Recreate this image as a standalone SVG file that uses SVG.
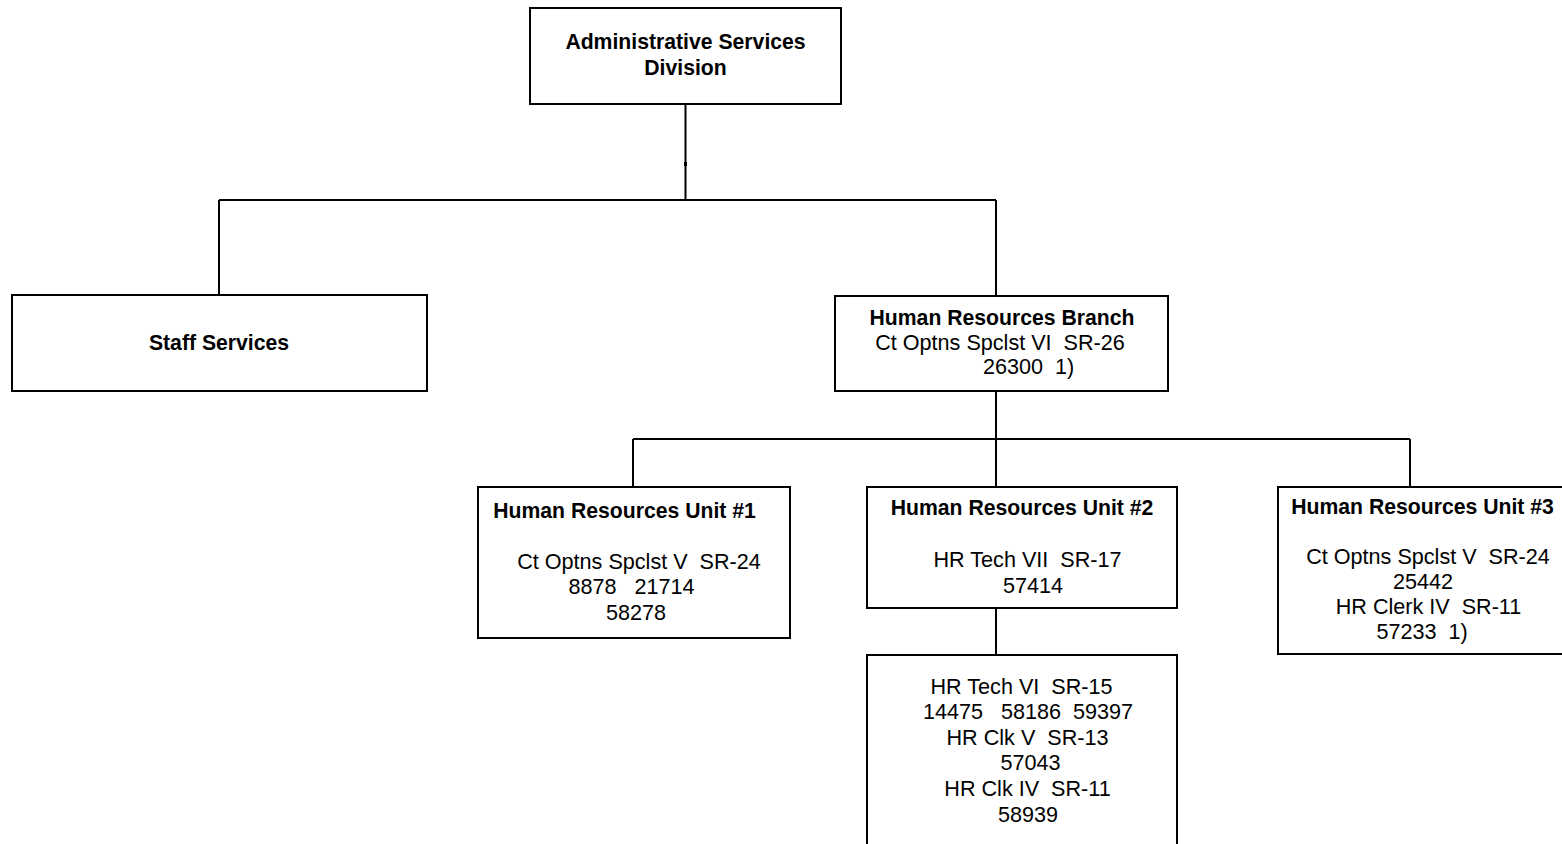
<svg xmlns="http://www.w3.org/2000/svg" width="1562" height="844" viewBox="0 0 1562 844" xml:space="preserve">
  <style>
    .box { fill: #ffffff; stroke: #000000; stroke-width: 2; }
    .wire { fill: none; stroke: #000000; stroke-width: 2; }
    text { font-family: "Liberation Sans", Arial, sans-serif; font-size: 21.6px; fill: #000000; text-anchor: middle; white-space: pre; }
    .b { font-weight: bold; font-size: 21.2px; }
  </style>
  <rect width="1562" height="844" fill="#ffffff"/>

  <!-- reporting lines -->
  <g id="connectors">
    <path class="wire" d="M685.5 104 V200 M219 200 H996 M219 200 V295 M996 200 V296"/>
    <rect x="684" y="162" width="3" height="4" fill="#000000"/>
    <path class="wire" d="M996 392 V439 M633 439 H1410 M633 439 V487 M996 439 V487 M1410 439 V487"/>
    <path class="wire" d="M996 608 V655"/>
  </g>

  <g id="admin-division">
    <rect class="box" x="530" y="8" width="311" height="96"/>
    <text class="b" x="685.5" y="49">Administrative Services</text>
    <text class="b" x="685.5" y="75">Division</text>
  </g>

  <g id="staff-services">
    <rect class="box" x="12" y="295" width="415" height="96"/>
    <text class="b" x="219" y="350">Staff Services</text>
  </g>

  <g id="hr-branch">
    <rect class="box" x="835" y="296" width="333" height="95"/>
    <text class="b" x="1002" y="325">Human Resources Branch</text>
    <text x="1000" y="350">Ct Optns Spclst VI  SR-26</text>
    <text x="1028.5" y="374">26300  1)</text>
  </g>

  <g id="hr-unit-1">
    <rect class="box" x="478" y="487" width="312" height="151"/>
    <text class="b" x="624.5" y="518">Human Resources Unit #1</text>
    <text x="639" y="569">Ct Optns Spclst V  SR-24</text>
    <text x="631.5" y="594">8878   21714</text>
    <text x="636" y="620">58278</text>
  </g>

  <g id="hr-unit-2">
    <rect class="box" x="867" y="487" width="310" height="121"/>
    <text class="b" x="1022" y="515">Human Resources Unit #2</text>
    <text x="1027.5" y="567">HR Tech VII  SR-17</text>
    <text x="1033" y="593">57414</text>
  </g>

  <g id="hr-unit-2-staff">
    <rect class="box" x="867" y="655" width="310" height="200"/>
    <text x="1021.5" y="694">HR Tech VI  SR-15</text>
    <text x="1028" y="719">14475   58186  59397</text>
    <text x="1027.5" y="745">HR Clk V  SR-13</text>
    <text x="1030.5" y="770">57043</text>
    <text x="1027.5" y="796">HR Clk IV  SR-11</text>
    <text x="1028" y="822">58939</text>
  </g>

  <g id="hr-unit-3">
    <rect class="box" x="1278" y="487" width="300" height="167"/>
    <text class="b" x="1422.5" y="514">Human Resources Unit #3</text>
    <text x="1428" y="564">Ct Optns Spclst V  SR-24</text>
    <text x="1423" y="589">25442</text>
    <text x="1428.5" y="614">HR Clerk IV  SR-11</text>
    <text x="1422" y="639">57233  1)</text>
  </g>
</svg>
